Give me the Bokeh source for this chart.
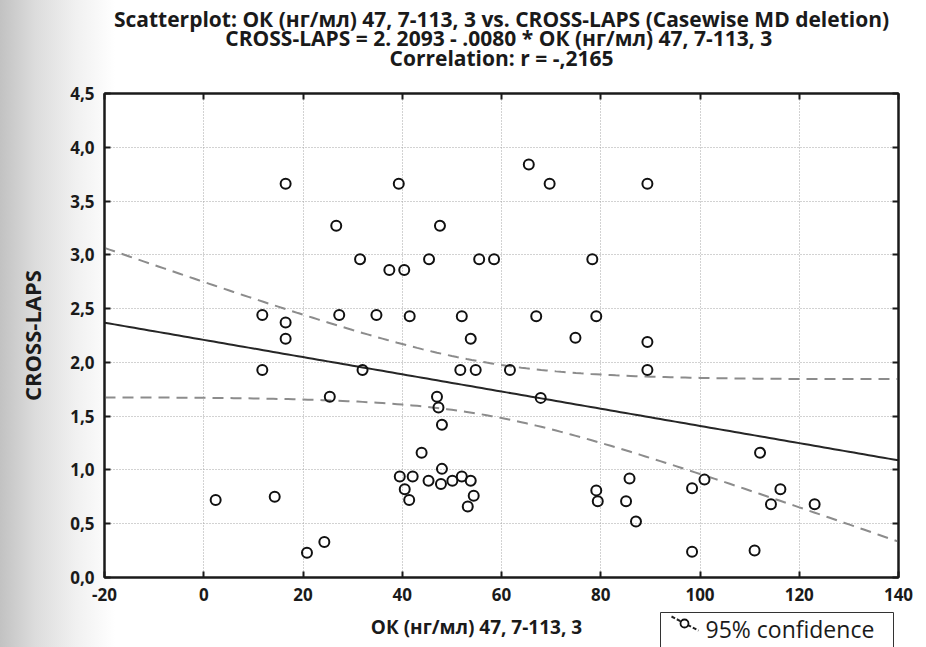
import numpy as np
from bokeh.plotting import figure
from bokeh.layouts import column
from bokeh.models import LinearAxis, FixedTicker, ColumnDataSource, Range1d, Label
from bokeh.embed import file_html
from bokeh.resources import INLINE

# Osteocalcin (OK, ng/ml) vs CROSS-LAPS, one pair per patient
ok_values = [
    2.4, 11.8, 11.8, 14.3, 16.5, 16.5, 16.5, 20.8, 24.3, 25.4,
    26.7, 27.3, 31.5, 32.0, 34.8, 37.4, 39.3, 39.5, 40.4, 40.5,
    41.4, 41.5, 42.1, 43.9, 45.3, 45.4, 47.0, 47.3, 47.6, 47.8,
    48.0, 48.0, 50.1, 51.7, 52.0, 52.0, 53.2, 53.8, 53.8, 54.4,
    54.8, 55.5, 58.5, 61.7, 65.5, 67.0, 67.9, 69.7, 74.9, 78.3,
    79.1, 79.1, 79.4, 85.1, 85.8, 87.1, 89.4, 89.4, 89.4, 98.4,
    98.4, 100.9, 111.0, 112.1, 114.3, 116.2, 123.1,
]
crosslaps_values = [
    0.72, 2.44, 1.93, 0.75, 3.66, 2.37, 2.22, 0.23, 0.33, 1.68,
    3.27, 2.44, 2.96, 1.93, 2.44, 2.86, 3.66, 0.94, 2.86, 0.82,
    0.72, 2.43, 0.94, 1.16, 0.90, 2.96, 1.68, 1.58, 3.27, 0.87,
    1.42, 1.01, 0.90, 1.93, 2.43, 0.94, 0.66, 2.22, 0.90, 0.76,
    1.93, 2.96, 2.96, 1.93, 3.84, 2.43, 1.67, 3.66, 2.23, 2.96,
    2.43, 0.81, 0.71, 0.71, 0.92, 0.52, 3.66, 2.19, 1.93, 0.83,
    0.24, 0.91, 0.25, 1.16, 0.68, 0.82, 0.68,
]

# regression reported in the header
intercept = 2.2093
slope = -0.0080
t_975 = 1.997  # Student t, 95 %, n - 2 degrees of freedom

x_ticks = [-20, 0, 20, 40, 60, 80, 100, 120, 140]
x_tick_labels = ["-20", "0", "20", "40", "60", "80", "100", "120", "140"]
y_ticks = [0.0, 0.5, 1.0, 1.5, 2.0, 2.5, 3.0, 3.5, 4.0, 4.5]
y_tick_labels = ["0,0", "0,5", "1,0", "1,5", "2,0", "2,5", "3,0", "3,5", "4,0", "4,5"]

title_lines = [
    "Scatterplot: ОК (нг/мл) 47, 7-113, 3 vs. CROSS-LAPS (Casewise MD deletion)",
    "CROSS-LAPS = 2. 2093 -  .0080 * ОК (нг/мл) 47, 7-113, 3",
    "Correlation: r = -,2165",
]
x_label = "ОК (нг/мл) 47, 7-113, 3"
y_label = "CROSS-LAPS"
legend_label = "95% confidence"

FONT = "Open Sans"
INK = "#1a1a1a"
W = 926
HEAD_H, MAIN_H, FOOT_H = 74, 536, 37
LEFT, RIGHT = 104, 28          # side margins shared by all three strips


def strip(height):
    """A bare strip whose x coordinates are page pixels and y runs top-down."""
    f = figure(width=W, height=height, output_backend="svg", toolbar_location=None,
               x_range=Range1d(LEFT, W - RIGHT), y_range=Range1d(height, 0),
               x_axis_type=None, y_axis_type=None,
               min_border_left=LEFT, min_border_right=RIGHT,
               min_border_top=0, min_border_bottom=0,
               outline_line_color=None, background_fill_color=None,
               border_fill_color=None)
    f.grid.visible = False
    return f


# ---- header: three centred lines ----------------------------------------
head = strip(HEAD_H)
for line, yy in zip(title_lines, (18, 37.5, 57)):
    head.add_layout(Label(x=(LEFT + W - RIGHT) / 2, y=yy, text=line,
                          text_align="center", text_baseline="middle",
                          text_font=FONT, text_font_style="bold",
                          text_font_size="21px", text_color=INK))

# ---- fitted line and its 95 % confidence band ---------------------------
x = np.asarray(ok_values, dtype=float)
y = np.asarray(crosslaps_values, dtype=float)
n = len(x)
resid = y - (intercept + slope * x)
s_err = np.sqrt(np.sum(resid ** 2) / (n - 2))
x_bar = x.mean()
sxx = np.sum((x - x_bar) ** 2)

x_fit = np.linspace(x_ticks[0], x_ticks[-1], 161)
y_fit = intercept + slope * x_fit
half = t_975 * s_err * np.sqrt(1.0 / n + (x_fit - x_bar) ** 2 / sxx)

pts = ColumnDataSource(dict(x=x, y=y))
fit = ColumnDataSource(dict(x=x_fit, y=y_fit, lo=y_fit - half, hi=y_fit + half))

# ---- main scatter plot ---------------------------------------------------
p = figure(
    width=W, height=MAIN_H,
    output_backend="svg", toolbar_location=None,
    x_range=Range1d(x_ticks[0], x_ticks[-1]),
    y_range=Range1d(y_ticks[0], y_ticks[-1]),
    min_border_left=LEFT, min_border_right=RIGHT,
    min_border_top=19, min_border_bottom=33,
    background_fill_color="white",
    border_fill_color=None,
    outline_line_color=INK, outline_line_width=2,
)

for g, tk in ((p.xgrid, x_ticks), (p.ygrid, y_ticks)):
    g.ticker = FixedTicker(ticks=tk)
    g.grid_line_color = "#a4a4a4"
    g.grid_line_dash = "1 2"
    g.grid_line_width = 1


def style_axis(ax, ticks, labels):
    ax.ticker = FixedTicker(ticks=ticks)
    ax.major_label_overrides = dict(zip(ticks, labels))
    ax.major_tick_in = 6
    ax.major_tick_out = 0
    ax.minor_tick_in = 0
    ax.minor_tick_out = 0
    ax.major_tick_line_color = INK
    ax.major_tick_line_width = 2
    ax.axis_line_color = INK
    ax.axis_line_width = 2
    ax.major_label_text_font = FONT
    ax.major_label_text_font_style = "bold"
    ax.major_label_text_font_size = "17px"
    ax.major_label_text_color = INK


xa = p.xaxis[0]
ya = p.yaxis[0]
style_axis(xa, x_ticks, x_tick_labels)
style_axis(ya, y_ticks, y_tick_labels)
xa.major_label_standoff = 10
ya.major_label_standoff = 10

ya.axis_label = y_label
ya.axis_label_text_font = FONT
ya.axis_label_text_font_style = "bold"
ya.axis_label_text_font_size = "22px"
ya.axis_label_text_color = INK
ya.axis_label_standoff = 20

# tick marks on the top and right edges of the frame
for side, tk in (("above", x_ticks), ("right", y_ticks)):
    ax = LinearAxis()
    style_axis(ax, tk, ["" for _ in tk])
    ax.major_label_text_font_size = "0px"
    ax.major_label_standoff = 0
    p.add_layout(ax, side)

p.line("x", "y", source=fit, line_color="#262626", line_width=2)
p.line("x", "hi", source=fit, line_color="#8c8c8c", line_width=2, line_dash="11 7")
p.line("x", "lo", source=fit, line_color="#8c8c8c", line_width=2, line_dash="11 7")
p.scatter("x", "y", source=pts, marker="circle", size=10,
          fill_color=None, line_color="#111111", line_width=2)

# ---- footer: x-axis title and legend box --------------------------------
foot = strip(FOOT_H)
foot.add_layout(Label(x=476, y=16, text=x_label, text_align="center",
                      text_baseline="middle", text_font=FONT,
                      text_font_style="bold", text_font_size="19px",
                      text_color=INK))

box_l, box_r, box_t = 660, 893, 2
foot.quad(left=[box_l], right=[box_r], top=[box_t], bottom=[FOOT_H + 4],
          fill_color="white", line_color="#333333", line_width=1)
sym_x0, sym_y0 = box_l + 11, box_t + 4
foot.segment(x0=[sym_x0], y0=[sym_y0], x1=[sym_x0 + 27], y1=[sym_y0 + 14],
             line_color="#222222", line_width=2, line_dash="4 2")
foot.scatter(x=[sym_x0 + 13], y=[sym_y0 + 7], marker="circle", size=8,
             fill_color="white", line_color="#111111", line_width=1.8)
foot.add_layout(Label(x=box_l + 45, y=18, text=legend_label, text_align="left",
                      text_baseline="middle", text_font=FONT,
                      text_font_size="23px", text_color=INK))

page = column(head, p, foot, spacing=0)
page.styles = {"background": "linear-gradient(to right, #c2c2c2 0px, #dcdcdc 35px, "
                             "#f0f0f0 75px, #ffffff 115px)"}

open("out.html", "w").write(file_html(page, INLINE))
